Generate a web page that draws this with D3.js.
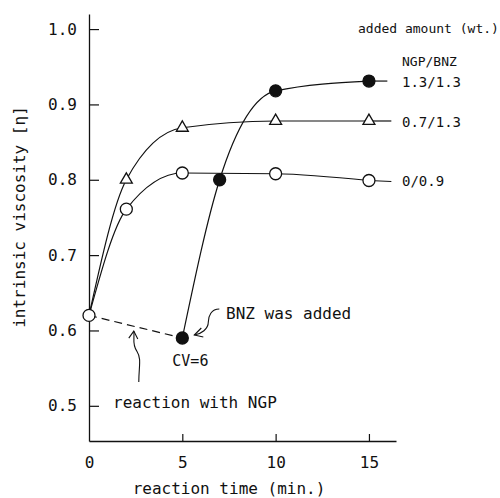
<!DOCTYPE html>
<html>
<head>
<meta charset="utf-8">
<script src="https://cdn.jsdelivr.net/npm/d3@7"></script>
<style>
  html, body { margin: 0; padding: 0; background: #fff; }
  svg { display: block; }
  text { font-family: "DejaVu Sans Mono", "Liberation Mono", monospace; fill: #111; }
</style>
</head>
<body>
<div id="chart"></div>
<script>
// Reaction time (min.) and intrinsic viscosity for each NGP/BNZ addition
const xTicks = [0, 5, 10, 15];
const yTicks = [0.5, 0.6, 0.7, 0.8, 0.9, 1.0];

const timeOpen = [0, 2, 5, 10, 15];
const viscOpen = [0.62, 0.761, 0.809, 0.808, 0.799];   // 0/0.9

const timeTri = [0, 2, 5, 10, 15];
const viscTri = [0.62, 0.80, 0.869, 0.878, 0.878];     // 0.7/1.3

const timeFilled = [5, 7, 10, 15];
const viscFilled = [0.59, 0.80, 0.918, 0.931];         // 1.3/1.3

const timeNGP = [0, 5];
const viscNGP = [0.62, 0.59];                          // reaction with NGP only

const seriesLabels = ["1.3/1.3", "0.7/1.3", "0/0.9"];

const W = 500, H = 498;
const svg = d3.select("#chart").append("svg").attr("width", W).attr("height", H);

const x = d3.scaleLinear().domain([0, 16.45]).range([89, 396]);
const y = d3.scaleLinear().domain([0.4533, 1.02]).range([441, 14]);

// axes with inward ticks
const yAxis = svg.append("g").attr("transform", `translate(${x(0)},0)`)
  .call(d3.axisLeft(y).tickValues(yTicks).tickFormat(d3.format(".1f"))
    .tickSizeInner(-10).tickSizeOuter(0).tickPadding(12));
const xAxis = svg.append("g").attr("transform", `translate(0,${y.range()[0]})`)
  .call(d3.axisBottom(x).tickValues(xTicks).tickFormat(d3.format("d"))
    .tickSizeInner(-7).tickSizeOuter(0).tickPadding(16));
[xAxis, yAxis].forEach(g => {
  g.select(".domain").attr("stroke", "#111").attr("stroke-width", 1.3);
  g.selectAll(".tick line").attr("stroke", "#111").attr("stroke-width", 1.2);
  g.selectAll(".tick text").attr("font-size", 16)
    .attr("font-family", '"DejaVu Sans Mono", monospace').attr("fill", "#111");
});
xAxis.selectAll(".tick").filter(d => d === 0).select("line").remove();

// axis titles
svg.append("text")
  .attr("transform", `translate(25,217) rotate(-90)`)
  .attr("text-anchor", "middle").attr("font-size", 16)
  .text("intrinsic viscosity [η]");
svg.append("text")
  .attr("x", 229).attr("y", 494)
  .attr("text-anchor", "middle").attr("font-size", 16)
  .text("reaction time (min.)");

const line = d3.line().x(d => x(d[0])).y(d => y(d[1])).curve(d3.curveMonotoneX);
const zip = (a, b) => a.map((v, i) => [v, b[i]]);

const open = zip(timeOpen, viscOpen);
const tri = zip(timeTri, viscTri);
const filled = zip(timeFilled, viscFilled);
const ngp = zip(timeNGP, viscNGP);

const lines = svg.append("g").attr("fill", "none").attr("stroke", "#111").attr("stroke-width", 1.2);
[open, tri, filled].forEach(s => lines.append("path").attr("d", line(s)));
lines.append("path").attr("d", d3.line().x(d => x(d[0])).y(d => y(d[1]))(ngp))
  .attr("stroke-dasharray", "8,5");

// leader lines out to the series labels
const tailEnd = 16.2;
const series = [filled, tri, open];
series.forEach((s, i) => {
  const last = s[s.length - 1];
  lines.append("line")
    .attr("x1", x(last[0])).attr("y1", y(last[1]))
    .attr("x2", x(tailEnd) - (i === 0 ? 4 : 0)).attr("y2", y(last[1]) + (i === 2 ? 1 : 0));
  svg.append("text")
    .attr("x", 402).attr("y", y(last[1])).attr("dy", "0.42em")
    .attr("font-size", 14).text(seriesLabels[i]);
});

// markers
const mk = svg.append("g").attr("stroke", "#111").attr("stroke-width", 1.3);
mk.selectAll(".o").data(open).join("circle")
  .attr("cx", d => x(d[0])).attr("cy", d => y(d[1])).attr("r", 6).attr("fill", "#fff");
mk.selectAll(".t").data(tri.slice(1)).join("path")
  .attr("d", d3.symbol(d3.symbolTriangle, 62)())
  .attr("transform", d => `translate(${x(d[0])},${y(d[1])})`).attr("fill", "#fff");
mk.selectAll(".f").data(filled).join("circle")
  .attr("cx", d => x(d[0])).attr("cy", d => y(d[1])).attr("r", 6).attr("fill", "#111");

// legend header
svg.append("text").attr("x", 358).attr("y", 33).attr("font-size", 13).text("added amount (wt.)");
svg.append("text").attr("x", 402).attr("y", 66).attr("font-size", 13).text("NGP/BNZ");

// annotations
const bx = x(timeFilled[0]), by = y(viscFilled[0]);
svg.append("text").attr("x", 226).attr("y", 319).attr("font-size", 16).text("BNZ was added");
svg.append("text").attr("x", bx - 10).attr("y", by + 28).attr("font-size", 15).text("CV=6");
svg.append("text").attr("x", 113).attr("y", 408).attr("font-size", 16).text("reaction with NGP");

const ann = svg.append("g").attr("fill", "none").attr("stroke", "#111").attr("stroke-width", 1.1);
// curly arrow pointing at the BNZ addition point
const tipA = [bx + 12, by - 3];
ann.append("path").attr("d",
  `M${tipA[0] + 25},${tipA[1] - 26} C${tipA[0] + 17},${tipA[1] - 26} ${tipA[0] + 14},${tipA[1] - 19} ${tipA[0] + 14},${tipA[1] - 13}` +
  ` C${tipA[0] + 14},${tipA[1] - 6} ${tipA[0] + 7},${tipA[1] - 1} ${tipA[0]},${tipA[1]}`);
ann.append("path").attr("d",
  `M${tipA[0] + 7},${tipA[1] - 7} L${tipA[0]},${tipA[1]} L${tipA[0] + 9},${tipA[1] + 2}`);
// curly arrow pointing at the dashed NGP line
const tipB = [x(2.4), y(0.6045) + 4];
ann.append("path").attr("d",
  `M${tipB[0] + 5},${tipB[1] + 51} C${tipB[0] + 5},${tipB[1] + 35} ${tipB[0] + 8},${tipB[1] + 28} ${tipB[0] + 3},${tipB[1] + 20}` +
  ` C${tipB[0] - 2},${tipB[1] + 13} ${tipB[0] + 1},${tipB[1] + 7} ${tipB[0]},${tipB[1]}`);
ann.append("path").attr("d",
  `M${tipB[0] - 5},${tipB[1] + 7} L${tipB[0]},${tipB[1]} L${tipB[0] + 4},${tipB[1] + 8}`);
</script>
</body>
</html>
